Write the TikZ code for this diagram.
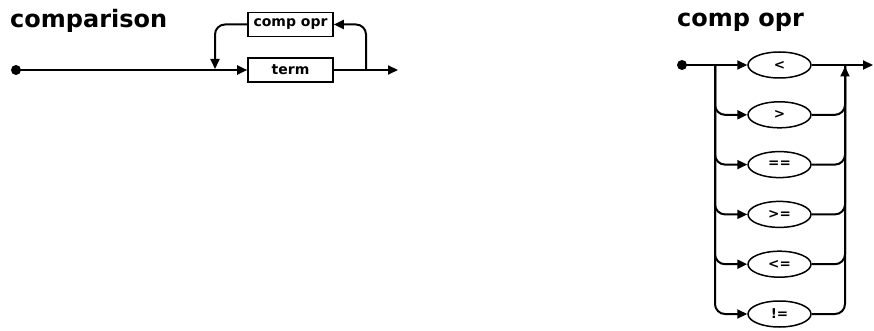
\documentclass[tikz,border=0pt]{standalone}
\usepackage{fontspec}
\setmainfont{DejaVu Sans}
\usetikzlibrary{shapes.geometric,arrows.meta}
\begin{document}
\begin{tikzpicture}[x=1pt,y=-1pt,
  line/.style={line width=2pt},
  arr/.style={line width=2pt,-{Triangle[length=10pt,width=9pt]}},
  dot/.style={circle,fill=black,inner sep=0pt,minimum size=10pt},
  rbox/.style={draw,line width=1.6pt,minimum width=85pt,minimum height=24pt,inner sep=0pt,font=\fontsize{14}{16}\selectfont\bfseries},
  oval/.style={draw,ellipse,line width=1.5pt,minimum width=63pt,minimum height=26pt,inner sep=0pt,font=\fontsize{13.5}{16}\selectfont\bfseries},
  title/.style={anchor=base west,inner sep=0pt,font=\fontsize{24}{28}\selectfont\bfseries}]
\useasboundingbox (0,0) rectangle (874,331);
% left diagram
\node[title] (t1) at (10,28) {comparison};
\node[dot] (s1) at (16,70) {};
\node[rbox] (term) at (290.5,70) {term};
\node[rbox] (cop) at (290.5,24.5) {comp opr};
\coordinate (e1) at (398,70);
\coordinate (j1) at (215,69);
\coordinate (j2) at (366,70);
\draw[arr] (s1.center) -- (term.west);
\draw[arr] (term.east) -- (e1);
\draw[arr,rounded corners=10pt] (j2) |- (cop.east);
\draw[arr,rounded corners=10pt] (cop.west) -| (j1);
% right diagram
\node[title] (t2) at (677,27) {comp opr};
\node[dot] (s2) at (682,65) {};
\node[oval] (o0) at (779.5,65) {<};
\node[oval] (o1) at (779.5,114.8) {>};
\node[oval] (o2) at (779.5,164.6) {==};
\node[oval] (o3) at (779.5,214.4) {>=};
\node[oval] (o4) at (779.5,264.2) {<=};
\node[oval] (o5) at (779.5,314) {!=};
\coordinate (L) at (715,65);
\coordinate (R) at (845,65);
\coordinate (Rt) at (845,66.5);
\coordinate (out) at (873,65);
\draw[arr] (s2.center) -- (o0.west);
\draw[arr] (o0.east) -- (out);
\foreach \i in {1,...,5}{
  \draw[arr,rounded corners=10pt] (L) |- (o\i.west);
}
\foreach \i in {1,...,4}{
  \draw[line,rounded corners=10pt] (o\i.east) -| (R);
}
\draw[arr,rounded corners=10pt] (o5.east) -| (Rt);
\end{tikzpicture}
\end{document}
